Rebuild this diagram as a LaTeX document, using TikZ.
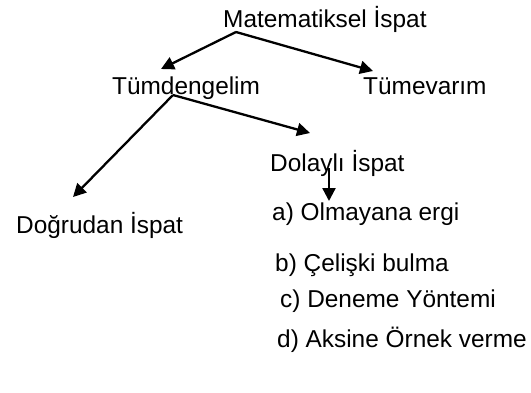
\documentclass[tikz,border=0pt]{standalone}
\usepackage{fontspec}
\setmainfont{Liberation Sans}
\usepackage{tikz}
\usetikzlibrary{calc, arrows.meta}

\tikzset{
    lbl/.style={inner sep=0pt, anchor=base west, font=\fontsize{24.4}{29}\selectfont},
    arr/.style={line width=2.3pt, -{Triangle[length=13pt, width=13pt]}}
}

\begin{document}
\begin{tikzpicture}[x=1pt, y=-1pt]
            \useasboundingbox (0,0) rectangle (531,392);
            \node[lbl] (mat) at (223,27) {Matematiksel İspat};
            \node[lbl] (tum) at (112,94) {Tümdengelim};
            \node[lbl] (tumv) at (363,94) {Tümevarım};
            \node[lbl] (dog) at (16,233) {Doğrudan İspat};
            \node[lbl] (dol) at (270,171) {Dolaylı İspat};
            \node[lbl] (ya) at (272,220) {a) Olmayana ergi};
            \node[lbl] (yb) at (275,271) {b) Çelişki bulma};
            \node[lbl] (yc) at (280,307) {c) Deneme Yöntemi};
            \node[lbl] (yd) at (277,347) {d) Aksine Örnek verme};
            \draw[arr] ($(mat.base west)+(13,5)$) -- ($(tum.base west)+(49,-25)$);
            \draw[arr] ($(mat.base west)+(13,5)$) -- ($(tumv.base west)+(10,-23)$);
            \draw[arr] ($(tum.base west)+(61,1)$) -- ($(dog.base west)+(57,-36)$);
            \draw[arr] ($(tum.base west)+(61,1)$) -- ($(dol.base west)+(40,-38)$);
            \draw[arr] ($(dol.base west)+(59,-3)$) -- ($(ya.base west)+(57,-19)$);
        \end{tikzpicture}
\end{document}
